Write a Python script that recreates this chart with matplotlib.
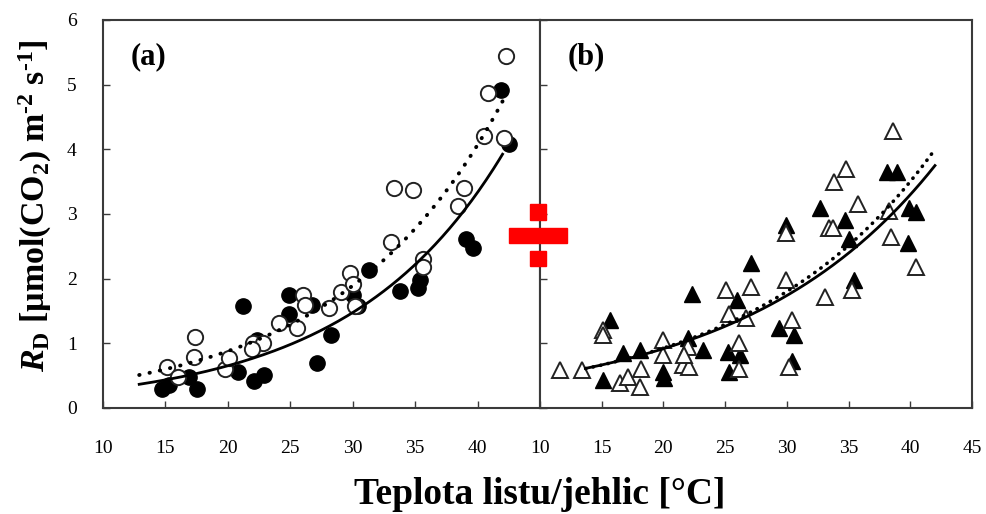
import numpy as np
import matplotlib
matplotlib.use("Agg")
import matplotlib.pyplot as plt
from matplotlib.patches import Rectangle

# ---------------- data ----------------
# Panel (a): filled circles
a_fill_x = [14.7, 15.3, 16.9, 17.5, 21.2, 20.8, 22.1, 22.9, 22.3, 24.9, 24.9, 26.7, 27.1, 28.3,
            30.0, 30.4, 31.3, 33.8, 35.2, 35.4, 39.1, 39.6, 41.9, 42.5]
a_fill_y = [0.30, 0.36, 0.48, 0.29, 1.57, 0.56, 0.41, 0.51, 1.05, 1.75, 1.46, 1.59, 0.70, 1.13,
            1.75, 1.57, 2.13, 1.81, 1.85, 1.98, 2.62, 2.48, 4.91, 4.09]
# Panel (a): open circles
a_open_x = [15.1, 16.0, 17.3, 17.4, 19.8, 20.1, 22.0, 22.8, 21.9, 24.1, 25.5, 26.0, 26.2, 28.1,
            29.1, 29.8, 30.0, 30.2, 33.1, 33.3, 34.8, 35.6, 35.6, 38.4, 38.9, 40.5, 40.8, 42.1, 42.3]
a_open_y = [0.64, 0.48, 0.79, 1.10, 0.61, 0.77, 1.00, 1.00, 0.92, 1.32, 1.23, 1.75, 1.59, 1.54,
            1.80, 2.09, 1.92, 1.57, 2.57, 3.40, 3.37, 2.31, 2.18, 3.13, 3.40, 4.20, 4.87, 4.18, 5.44]

# Panel (b): filled triangles
b_fill_x = [15.1, 15.65, 16.7, 18.1, 20.0, 20.05, 22.0, 22.3, 23.2, 25.2, 25.3, 26.0, 26.2, 27.1,
            29.4, 30.6, 29.9, 30.45, 32.7, 34.75, 35.0, 35.4, 38.1, 38.9, 39.9, 40.5, 39.8]
b_fill_y = [0.43, 1.36, 0.85, 0.89, 0.56, 0.46, 1.08, 1.77, 0.90, 0.87, 0.56, 1.67, 0.82, 2.24,
            1.23, 1.13, 2.83, 0.72, 3.10, 2.91, 2.62, 1.98, 3.65, 3.65, 3.09, 3.03, 2.55]
# Panel (b): open triangles
b_open_x = [11.6, 13.4, 15.1, 15.1, 16.5, 17.15, 18.1, 18.2, 20.0, 20.0, 21.6, 22.1, 22.0, 21.7,
            25.1, 25.35, 26.1, 26.1, 26.65, 27.1, 29.9, 29.9, 30.45, 30.2, 33.1, 33.4, 33.7,
            33.8, 34.8, 35.8, 35.3, 38.3, 38.4, 38.6, 40.5]
b_open_y = [0.59, 0.58, 1.21, 1.13, 0.38, 0.48, 0.33, 0.61, 1.05, 0.82, 0.66, 0.64, 0.95, 0.82,
            1.82, 1.46, 1.00, 0.61, 1.39, 1.87, 2.70, 1.98, 1.36, 0.64, 1.72, 2.79, 2.78,
            3.50, 3.70, 3.15, 1.82, 3.05, 2.65, 4.29, 2.18]

# Exponential fit curves y = A*exp(B*T) (range of each curve)
fit_a_solid = dict(A=0.128, B=0.0815, t0=12.9, t1=42.0)
fit_a_dot = dict(A=0.190, B=0.0766, t0=12.9, t1=42.2)
fit_b_solid = dict(A=0.255, B=0.0640, t0=13.7, t1=42.0)
fit_b_dot = dict(A=0.245, B=0.0665, t0=13.7, t1=41.8)

x_ticks_a = [10, 15, 20, 25, 30, 35, 40]
x_ticks_b = [10, 15, 20, 25, 30, 35, 40, 45]
y_ticks = [0, 1, 2, 3, 4, 5, 6]

# ---------------- style ----------------
plt.rcParams['font.family'] = ['Liberation Serif', 'DejaVu Serif']
plt.rcParams['mathtext.fontset'] = 'custom'
plt.rcParams['mathtext.rm'] = 'Liberation Serif:bold'
plt.rcParams['mathtext.bf'] = 'Liberation Serif:bold'
plt.rcParams['mathtext.it'] = 'Liberation Serif:italic:bold'

W, H = 986, 514
fig = plt.figure(figsize=(W / 100, H / 100), dpi=100)

def px_rect(x0, y0, x1, y1):
    return [x0 / W, 1 - y1 / H, (x1 - x0) / W, (y1 - y0) / H]

ax_a = fig.add_axes(px_rect(103, 20, 540, 408))
ax_b = fig.add_axes(px_rect(540, 20, 972, 408))

spine_col = '#3a3a3a'
for ax in (ax_a, ax_b):
    ax.set_xlim(10, 45)
    ax.set_ylim(0, 6)
    for s in ax.spines.values():
        s.set_color(spine_col)
        s.set_linewidth(1.5)
    ax.set_yticks(y_ticks)
    ax.tick_params(direction='in', length=5, width=1.0, color=spine_col,
                   labelsize=14, top=False, right=False)
    ax.tick_params(axis='x', pad=23)
    ax.tick_params(axis='y', pad=19)

ax_a.set_xticks(x_ticks_a)
ax_b.set_xticks(x_ticks_b)
ax_b.tick_params(axis='y', labelleft=False)

def curve(ax, f, **kw):
    t = np.linspace(f['t0'], f['t1'], 200)
    ax.plot(t, f['A'] * np.exp(f['B'] * t), color='black', zorder=4, **kw)

curve(ax_a, fit_a_solid, lw=2.0)
curve(ax_a, fit_a_dot, lw=2.8, linestyle=(0, (0.1, 2.6)), dash_capstyle='round')
curve(ax_b, fit_b_solid, lw=2.0)
curve(ax_b, fit_b_dot, lw=2.6, linestyle=(0, (0.1, 2.0)), dash_capstyle='round')

ax_a.plot(a_fill_x, a_fill_y, 'o', ms=11, mfc='black', mec='black', mew=1.0, ls='none', zorder=3)
ax_a.plot(a_open_x, a_open_y, 'o', ms=11, mfc='white', mec='#222222', mew=1.4, ls='none', zorder=3)
ax_b.plot(b_fill_x, b_fill_y, '^', ms=12, mfc='black', mec='black', mew=1.0, ls='none', zorder=3)
ax_b.plot(b_open_x, b_open_y, '^', ms=12, mfc='white', mec='#222222', mew=1.4, ls='none', zorder=3)

ax_a.text(0.105, 0.905, '(a)', transform=ax_a.transAxes, fontsize=22, fontweight='bold',
          ha='center', va='center')
ax_b.text(0.108, 0.905, '(b)', transform=ax_b.transAxes, fontsize=22, fontweight='bold',
          ha='center', va='center')

fig.text(540 / W, 1 - 495 / H, 'Teplota listu/jehlic [°C]', fontsize=27, fontweight='bold',
         ha='center', va='center')
fig.text(35 / W, 1 - 206 / H,
         '$\\mathit{R}_{\\mathrm{D}}$ [µmol(CO$_{\\mathrm{2}}$) m$^{\\mathrm{\u2010 2}}$ s$^{\\mathrm{\u2010 1}}$]',
         fontsize=24.5, fontweight='bold', rotation=90, ha='center', va='center')

# red cross marker between the panels
red = '#ff0000'
for (x0, y0, x1, y1) in [(509, 228, 567, 243), (530, 204, 546, 220), (530, 251, 546, 266)]:
    fig.patches.append(Rectangle((x0 / W, 1 - y1 / H), (x1 - x0) / W, (y1 - y0) / H,
                                 transform=fig.transFigure, color=red, zorder=10))

fig.savefig('out.png', dpi=100)
